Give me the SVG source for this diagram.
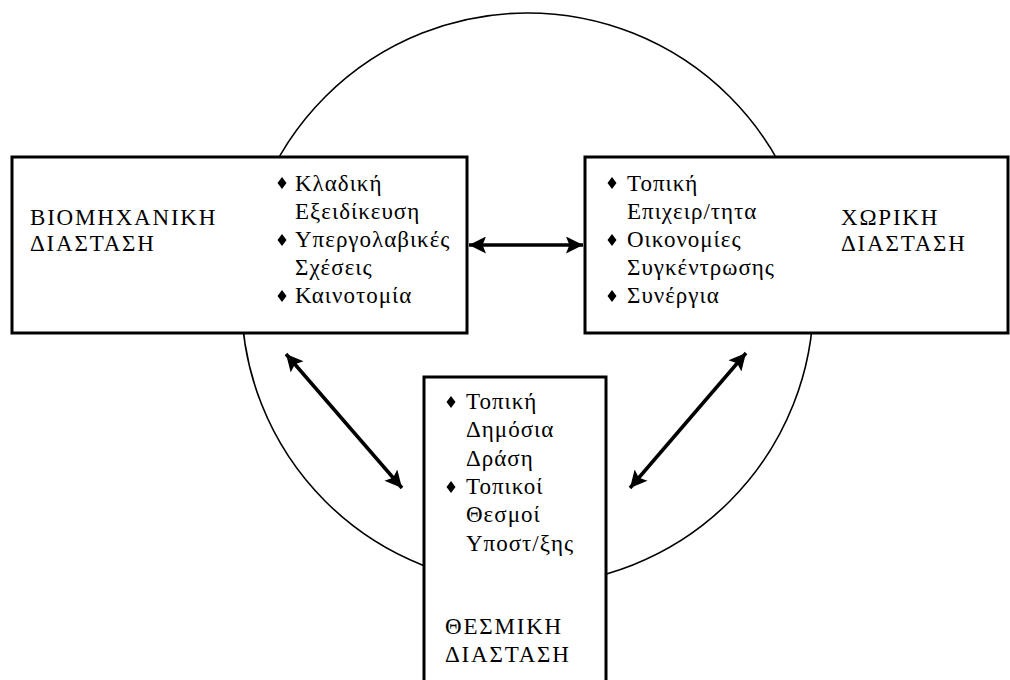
<svg xmlns="http://www.w3.org/2000/svg" width="1010" height="680" viewBox="0 0 1010 680">
<style>
.box{fill:#fff;stroke:#000;stroke-width:3}
.t{font-family:"Liberation Serif","Times New Roman",serif;font-size:23px;fill:#000;letter-spacing:1px}
.h{letter-spacing:1.8px}
.c{stroke:#000;stroke-width:3.5;fill:none}
</style>
<defs>
<marker id="ah" viewBox="0 0 10 10" refX="10" refY="5" markerUnits="userSpaceOnUse" markerWidth="20" markerHeight="17" orient="auto-start-reverse">
<path d="M0,0 L10,5 L0,10 L2,5 Z" fill="#000"/>
</marker>
<path id="dm" d="M0,-6 L4.5,0 L0,6 L-4.5,0 Z" fill="#000"/>
</defs>
<rect width="1010" height="680" fill="#fff"/>
<circle cx="527.5" cy="299" r="286" fill="none" stroke="#000" stroke-width="1.6"/>
<g id="n1">
<rect class="box" x="12" y="157" width="455" height="176"/>
<text class="t h" x="30" y="225">ΒΙΟΜΗΧΑΝΙΚΗ</text>
<text class="t h" x="30" y="251">ΔΙΑΣΤΑΣΗ</text>
<use href="#dm" x="282" y="183"/>
<text class="t" x="295" y="191">Κλαδική</text>
<text class="t" x="295" y="219">Εξειδίκευση</text>
<use href="#dm" x="282" y="240"/>
<text class="t" x="295" y="247">Υπεργολαβικές</text>
<text class="t" x="295" y="275">Σχέσεις</text>
<use href="#dm" x="282" y="296"/>
<text class="t" x="295" y="303">Καινοτομία</text>
</g>
<g id="n2">
<rect class="box" x="585" y="157" width="423" height="176"/>
<use href="#dm" x="612" y="183"/>
<text class="t" x="627" y="191">Τοπική</text>
<text class="t" x="627" y="219">Επιχειρ/τητα</text>
<use href="#dm" x="612" y="240"/>
<text class="t" x="627" y="247">Οικονομίες</text>
<text class="t" x="627" y="275">Συγκέντρωσης</text>
<use href="#dm" x="612" y="296"/>
<text class="t" x="627" y="303">Συνέργια</text>
<text class="t h" x="841" y="225">ΧΩΡΙΚΗ</text>
<text class="t h" x="841" y="251">ΔΙΑΣΤΑΣΗ</text>
</g>
<g id="n3">
<rect class="box" x="424" y="377" width="182" height="310"/>
<use href="#dm" x="451" y="402"/>
<text class="t" x="466" y="409">Τοπική</text>
<text class="t" x="466" y="437">Δημόσια</text>
<text class="t" x="466" y="466">Δράση</text>
<use href="#dm" x="451" y="487"/>
<text class="t" x="466" y="494">Τοπικοί</text>
<text class="t" x="466" y="522">Θεσμοί</text>
<text class="t" x="466" y="551">Υποστ/ξης</text>
<text class="t h" x="445" y="634">ΘΕΣΜΙΚΗ</text>
<text class="t h" x="445" y="662">ΔΙΑΣΤΑΣΗ</text>
</g>
<g id="connectors">
<line class="c" x1="469" y1="245" x2="583" y2="245" marker-start="url(#ah)" marker-end="url(#ah)"/>
<line class="c" x1="286" y1="354" x2="402" y2="488" marker-start="url(#ah)" marker-end="url(#ah)"/>
<line class="c" x1="746" y1="353" x2="630" y2="488" marker-start="url(#ah)" marker-end="url(#ah)"/>
</g>
</svg>
